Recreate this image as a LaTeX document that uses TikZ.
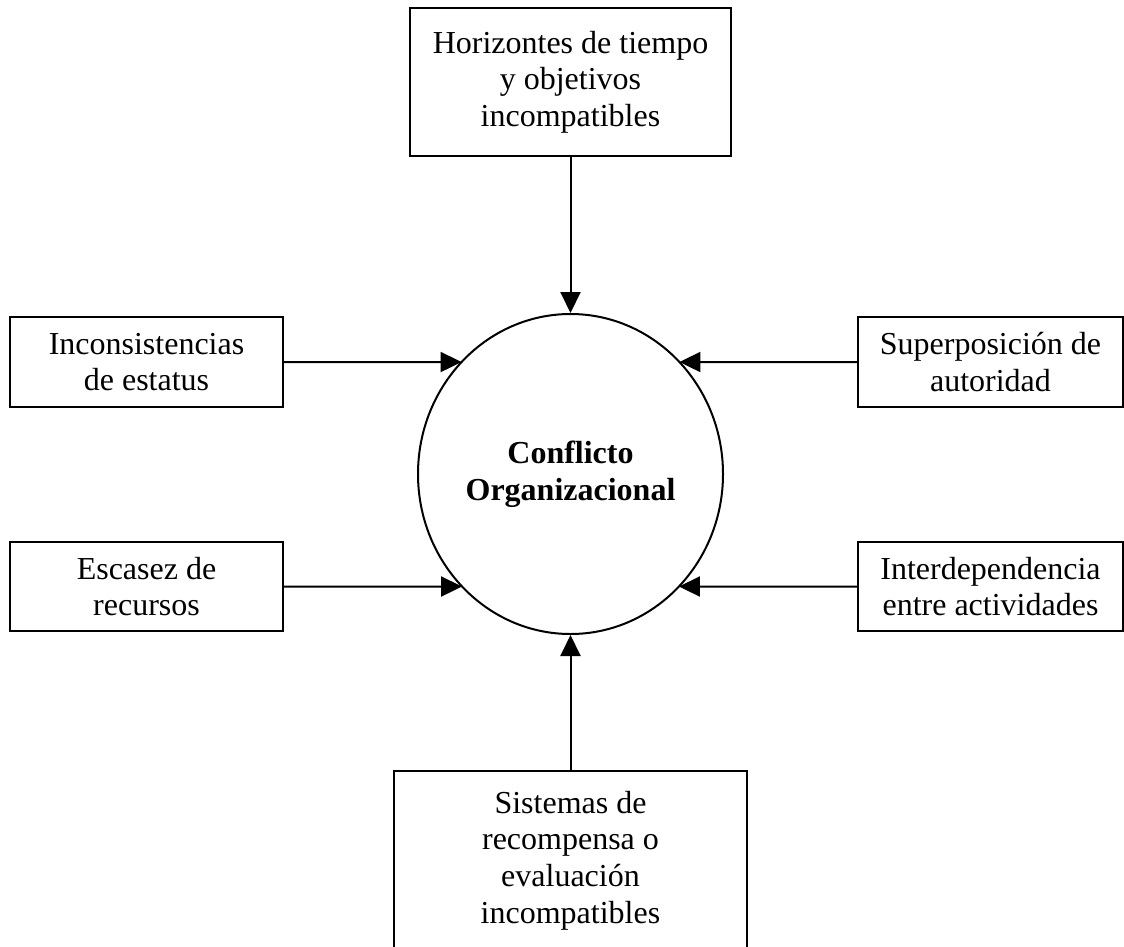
\documentclass[tikz,border=0pt]{standalone}
\usepackage{fontspec}
\setmainfont{Liberation Serif}
\usetikzlibrary{shapes.geometric,arrows.meta,intersections}
\begin{document}
\begin{tikzpicture}[x=1pt,y=-1pt,
  box/.style={draw, line width=2pt, align=center, inner sep=0pt,
    font=\fontsize{32}{36.7}\selectfont},
  arr/.style={-{Triangle[length=21pt,width=20pt]}, line width=2pt}]
\useasboundingbox[fill=white] (0,0) rectangle (1124,946);
\node[box, minimum width=321pt, minimum height=148pt] (top) at (570.5,82) {Horizontes de tiempo\\y objetivos\\incompatibles};
\node[box, minimum width=273pt, minimum height=90pt] (l1) at (146.5,362) {Inconsistencias\\de estatus};
\node[box, minimum width=265pt, minimum height=90pt] (r1) at (990.5,362) {Superposición de\\autoridad};
\node[box, minimum width=273pt, minimum height=89pt] (l2) at (146.5,586.5) {Escasez de\\recursos};
\node[box, minimum width=265pt, minimum height=89pt] (r2) at (990.5,586.5) {Interdependencia\\entre actividades};
\node[box, minimum width=353pt, minimum height=179pt] (bot) at (570.5,860.5) {Sistemas de\\recompensa o\\evaluación\\incompatibles};
\node[box, ellipse, name path=circ, minimum width=305pt, minimum height=320pt] (c) at (570.5,474) {\textbf{Conflicto}\\\textbf{Organizacional}};
\draw[arr] (top.south) -- (c.north);
\draw[arr] (bot.north) -- (c.south);
\path[name path=h1] (l1.east) -- ++(300,0);
\draw[arr, name intersections={of=circ and h1}] (l1.east) -- (intersection-1);
\path[name path=h2] (l2.east) -- ++(300,0);
\draw[arr, name intersections={of=circ and h2}] (l2.east) -- (intersection-1);
\path[name path=h3] (r1.west) -- ++(-300,0);
\draw[arr, name intersections={of=circ and h3}] (r1.west) -- (intersection-1);
\path[name path=h4] (r2.west) -- ++(-300,0);
\draw[arr, name intersections={of=circ and h4}] (r2.west) -- (intersection-1);
\end{tikzpicture}
\end{document}
